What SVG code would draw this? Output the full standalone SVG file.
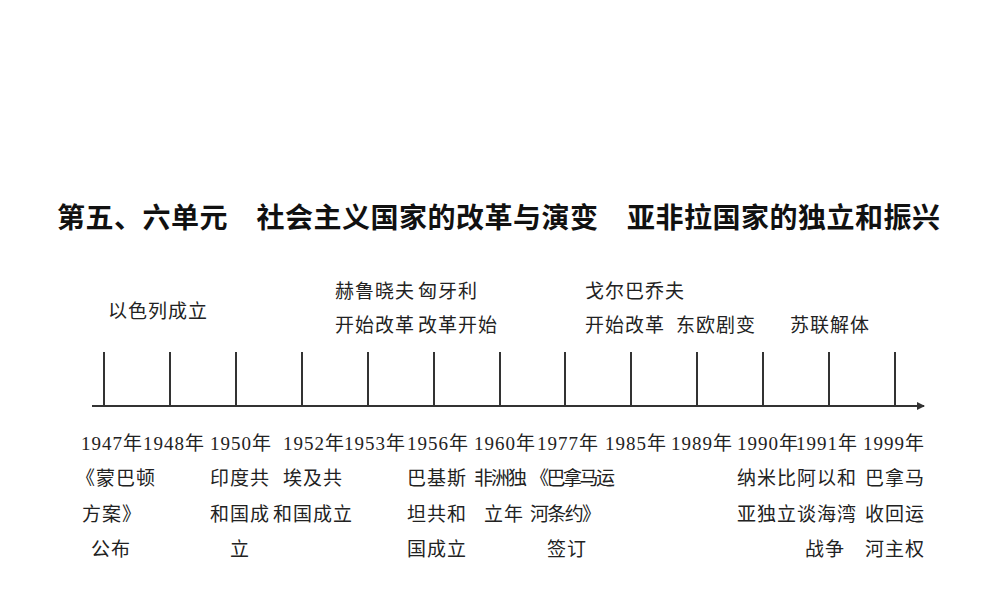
<svg xmlns="http://www.w3.org/2000/svg" width="1000" height="600" viewBox="0 0 1000 600">
<style>
.t{font-family:"Liberation Serif","Noto Sans CJK SC",serif;font-size:19px;fill:#222;letter-spacing:1px}
.h{font-family:"Noto Sans CJK SC",sans-serif;font-size:28px;font-weight:bold;fill:#111}
.k{stroke:#333;stroke-width:2}
</style>
<defs><marker id="a" markerWidth="8" markerHeight="8" refX="7" refY="4" orient="auto" markerUnits="userSpaceOnUse"><path d="M0,0 L8,4 L0,8 Z" fill="#333"/></marker></defs>
<rect width="1000" height="600" fill="#fff"/>
<text class="h" x="57" y="228" textLength="883">第五、六单元　社会主义国家的改革与演变　亚非拉国家的独立和振兴</text>
<g id="connectors">
<line class="k" x1="92" y1="406" x2="924" y2="406" marker-end="url(#a)"/>
<path class="k" d="M104 352V406M170 352V406M236 352V406M302 352V406M368 352V406M434 352V406M500 352V406M565 352V406M631 352V406M697 352V406M763 352V406M829 352V406M895 352V406"/>
</g>
<g id="top" class="t">
<text x="108" y="318">以色列成立</text>
<text x="335" y="298">赫鲁晓夫</text><text x="335" y="332">开始改革</text>
<text x="418" y="298">匈牙利</text><text x="418" y="332">改革开始</text>
<text x="585" y="298">戈尔巴乔夫</text><text x="585" y="332">开始改革</text>
<text x="676" y="332">东欧剧变</text>
<text x="790" y="332">苏联解体</text>
</g>
<g id="n1947" class="t"><text x="81" y="450">1947年</text><text x="76" y="485">《蒙巴顿</text><text x="82" y="521">方案》</text><text x="91" y="556">公布</text></g>
<g id="n1948" class="t"><text x="143" y="450">1948年</text></g>
<g id="n1950" class="t"><text x="210" y="450">1950年</text><text x="210" y="485">印度共</text><text x="210" y="521">和国成</text><text x="230" y="556">立</text></g>
<g id="n1952" class="t"><text x="283" y="450">1952年</text><text x="283" y="485">埃及共</text><text x="273" y="521">和国成立</text></g>
<g id="n1953" class="t"><text x="344" y="450">1953年</text></g>
<g id="n1956" class="t"><text x="407" y="450">1956年</text><text x="407" y="485">巴基斯</text><text x="407" y="521">坦共和</text><text x="407" y="556">国成立</text></g>
<g id="n1960" class="t"><text x="474" y="450">1960年</text><text x="474" y="485" textLength="54">非洲独</text><text x="484" y="521">立年</text></g>
<g id="n1977" class="t"><text x="537" y="450">1977年</text><text x="530" y="485" textLength="86">《巴拿马运</text><text x="530" y="521" textLength="72">河条约》</text><text x="547" y="556">签订</text></g>
<g id="n1985" class="t"><text x="605" y="450">1985年</text></g>
<g id="n1989" class="t"><text x="671" y="450">1989年</text></g>
<g id="n1990" class="t"><text x="737" y="450">1990年</text><text x="737" y="485">纳米比</text><text x="737" y="521">亚独立</text></g>
<g id="n1991" class="t"><text x="796" y="450">1991年</text><text x="797" y="485">阿以和</text><text x="797" y="521">谈海湾</text><text x="805" y="556">战争</text></g>
<g id="n1999" class="t"><text x="863" y="450">1999年</text><text x="865" y="485">巴拿马</text><text x="865" y="521">收回运</text><text x="865" y="556">河主权</text></g>
</svg>
